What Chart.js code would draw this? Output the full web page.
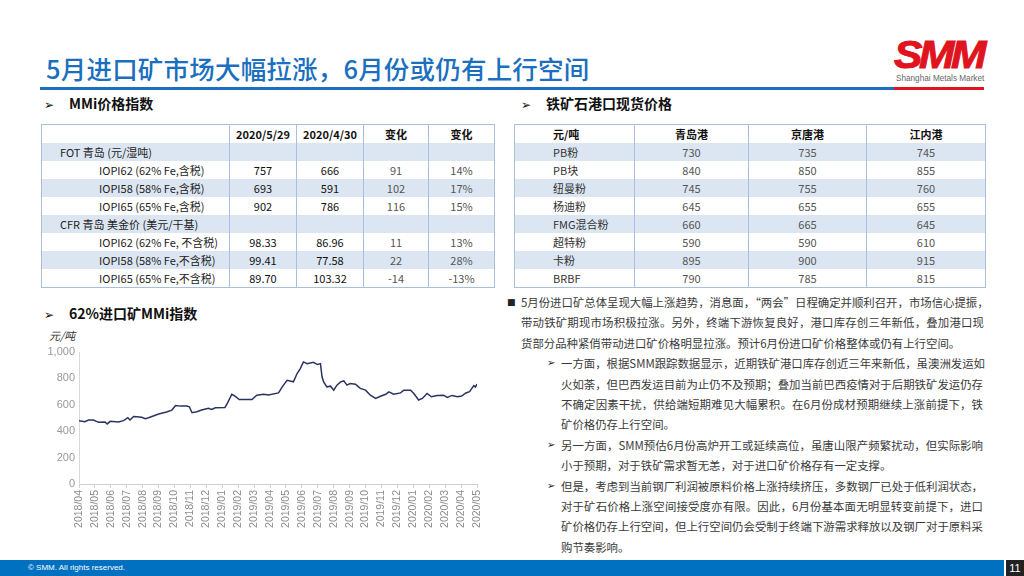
<!DOCTYPE html>
<html><head><meta charset="utf-8">
<script src="https://cdn.jsdelivr.net/npm/chart.js@4"></script>
<style>
*{margin:0;padding:0;box-sizing:border-box}
body{width:1024px;height:576px;position:relative;background:#fff;font-family:"Noto Sans CJK SC","Noto Sans",sans-serif;overflow:hidden;color:#333}
.abs{position:absolute;white-space:nowrap}
.title{left:46px;top:49px;font-size:25.5px;color:#1a6fbf;font-weight:500;letter-spacing:0.2px}
.rule{position:absolute;height:3px;top:87px}
.h2{font-size:14px;font-weight:700;color:#111}
.h2 .ar{font-family:"DejaVu Sans";font-weight:400;font-size:12px;margin-right:15px}
table{position:absolute;border-collapse:collapse;table-layout:fixed;font-size:11px}
td{height:18.1px;padding:0;border-left:1px solid #a9c0dd;border-right:1px solid #a9c0dd;text-align:center;line-height:16px}
table{border:1px solid #a9c0dd}
tr.b td{background:#dce6f2}
tr.h td{font-weight:700;color:#111}
#t1 td.v{color:#111}
#t1 td.g{color:#555}
#t2 td{color:#555}
#t2 tr.h td{color:#111}
.txt{position:absolute;font-size:11.4px;color:#3a3a3a;line-height:20px;height:20px}
.j{text-align:justify;text-align-last:justify}
</style></head><body>
<div class="abs title">5月进口矿市场大幅拉涨，6月份或仍有上行空间</div>
<div class="rule" style="left:40px;width:854px;background:#1f6fc0"></div>
<div class="rule" style="left:894px;width:90px;background:#e0141e"></div>
<div class="abs" style="left:894px;top:35px;font-family:'Liberation Sans';font-weight:900;font-style:italic;font-size:38px;color:#e0141e;letter-spacing:-3px;transform:scaleX(1.12);transform-origin:left;line-height:40px;-webkit-text-stroke:1px #e0141e">SMM</div>
<div class="abs" style="left:896px;top:74px;font-family:'Liberation Sans';font-size:8.2px;color:#666">Shanghai Metals Market</div>

<div class="abs h2" style="left:44px;top:93px"><span class="ar">➢</span>MMi价格指数</div>
<div class="abs h2" style="left:521px;top:93px"><span class="ar">➢</span>铁矿石港口现货价格</div>
<div class="abs h2" style="left:44px;top:303px"><span class="ar">➢</span>62%进口矿MMi指数</div>

<table id="t1" style="left:41px;top:124px;width:453px">
<colgroup><col style="width:188px"><col style="width:67px"><col style="width:67px"><col style="width:65px"><col style="width:66px"></colgroup>
<tbody id="t1b"></tbody></table>

<table id="t2" style="left:514px;top:124px;width:471px">
<colgroup><col style="width:120px"><col style="width:114px"><col style="width:118px"><col style="width:119px"></colgroup>
<tbody id="t2b"></tbody></table>

<div id="texts"></div>

<div class="abs" style="left:49px;top:327px;font-size:11px;font-style:italic;color:#333">元/吨</div>
<div style="position:absolute;left:30px;top:340px;width:462px;height:200px"><canvas id="c"></canvas></div>

<div style="position:absolute;left:0;top:560px;width:1004px;height:16px;background:#0070c0"></div>
<div class="abs" style="left:28px;top:562px;font-family:'Liberation Sans';font-size:8px;color:#fff;line-height:12px">© SMM. All rights reserved.</div>
<div style="position:absolute;left:1006px;top:560px;width:18px;height:16px;background:#222;color:#fff;font-family:'Liberation Sans';font-size:11px;text-align:center;line-height:16px">11</div>

<script>
// ---- MMi price table ----
const t1Header = ['', '2020/5/29', '2020/4/30', '变化', '变化'];
const t1Labels = ['FOT 青岛 (元/湿吨)', 'IOPI62 (62% Fe,含税)', 'IOPI58 (58% Fe,含税)', 'IOPI65 (65% Fe,含税)',
  'CFR 青岛 美金价 (美元/干基)', 'IOPI62 (62% Fe, 不含税)', 'IOPI58 (58% Fe,不含税)', 'IOPI65 (65% Fe,不含税)'];
const t1Now = ['', '757', '693', '902', '', '98.33', '99.41', '89.70'];
const t1Prev = ['', '666', '591', '786', '', '86.96', '77.58', '103.32'];
const t1Chg = ['', '91', '102', '116', '', '11', '22', '-14'];
const t1Pct = ['', '14%', '17%', '15%', '', '13%', '28%', '-13%'];

// ---- Port spot price table ----
const t2Header = ['元/吨', '青岛港', '京唐港', '江内港'];
const t2Labels = ['PB粉', 'PB块', '纽曼粉', '杨迪粉', 'FMG混合粉', '超特粉', '卡粉', 'BRBF'];
const qingdao = [730, 840, 745, 645, 660, 590, 895, 790];
const jingtang = [735, 850, 755, 655, 665, 590, 900, 785];
const jiangnei = [745, 855, 760, 655, 645, 610, 915, 815];

// ---- Chart data: 62% imported ore MMi index ----
const monthLabels = ['2018/04','2018/05','2018/06','2018/07','2018/08','2018/09','2018/10','2018/11','2018/12',
  '2019/01','2019/02','2019/03','2019/04','2019/05','2019/06','2019/07','2019/08','2019/09','2019/10','2019/11','2019/12',
  '2020/01','2020/02','2020/03','2020/04','2020/05'];
const dates = ['2018-04-29','2018-05-10','2018-05-17','2018-05-26','2018-06-06','2018-06-18','2018-06-22','2018-06-28',
  '2018-07-13','2018-07-23','2018-07-31','2018-08-05','2018-08-12','2018-08-18','2018-08-27','2018-09-04','2018-09-10',
  '2018-09-19','2018-09-29','2018-10-14','2018-10-24','2018-10-31','2018-11-10','2018-11-22','2018-11-27','2018-12-02',
  '2018-12-11','2018-12-20','2019-01-03','2019-01-09','2019-01-16','2019-02-04','2019-02-09','2019-02-17','2019-02-23',
  '2019-03-01','2019-03-16','2019-03-25','2019-04-04','2019-04-17','2019-04-26','2019-05-15','2019-05-22','2019-05-31',
  '2019-06-13','2019-06-20','2019-06-26','2019-07-02','2019-07-09','2019-07-15','2019-07-21','2019-07-28','2019-08-04',
  '2019-08-07','2019-08-10','2019-08-16','2019-08-23','2019-08-29','2019-09-05','2019-09-12','2019-09-18','2019-09-24',
  '2019-09-30','2019-10-10','2019-10-19','2019-10-29','2019-11-08','2019-11-18','2019-11-27','2019-12-07','2019-12-13',
  '2019-12-22','2020-01-05','2020-01-11','2020-01-24','2020-01-30','2020-02-09','2020-02-16','2020-02-25','2020-03-03',
  '2020-03-14','2020-03-26','2020-04-03','2020-04-12','2020-04-22','2020-04-30','2020-05-08','2020-05-15','2020-05-23',
  '2020-05-26','2020-05-29'];
const values = [480,472,485,485,467,470,455,475,
  470,480,502,485,512,510,505,495,502,
  515,530,545,560,595,590,590,585,540,
  548,560,573,565,578,580,615,680,665,
  640,640,640,673,680,675,690,736,786,
  774,837,874,925,912,917,922,905,912,
  812,774,736,741,711,749,774,781,749,
  761,756,724,711,673,648,665,680,698,
  680,690,711,711,686,636,648,686,661,
  671,673,656,671,661,666,690,700,745,
  735,757];

// ---- Commentary text lines ----
const mainLines = ['5月份进口矿总体呈现大幅上涨趋势，消息面，“两会”日程确定并顺利召开，市场信心提振，',
  '带动铁矿期现市场积极拉涨。另外，终端下游恢复良好，港口库存创三年新低，叠加港口现',
  '货部分品种紧俏带动进口矿价格明显拉涨。预计6月份进口矿价格整体或仍有上行空间。'];
const sub1 = ['一方面，根据SMM跟踪数据显示，近期铁矿港口库存创近三年来新低，虽澳洲发运如',
  '火如荼，但巴西发运目前为止仍不及预期；叠加当前巴西疫情对于后期铁矿发运仍存',
  '不确定因素干扰，供给端短期难见大幅累积。在6月份成材预期继续上涨前提下，铁',
  '矿价格仍存上行空间。'];
const sub2 = ['另一方面，SMM预估6月份高炉开工或延续高位，虽唐山限产频繁扰动，但实际影响',
  '小于预期，对于铁矿需求暂无恙，对于进口矿价格存有一定支撑。'];
const sub3 = ['但是，考虑到当前钢厂利润被原料价格上涨持续挤压，多数钢厂已处于低利润状态，',
  '对于矿石价格上涨空间接受度亦有限。因此，6月份基本面无明显转变前提下，进口',
  '矿价格仍存上行空间，但上行空间仍会受制于终端下游需求释放以及钢厂对于原料采',
  '购节奏影响。'];

// build table 1
(function(){
  const tb = document.getElementById('t1b');
  let h = '<tr class="h">' + t1Header.map(s => '<td>' + s + '</td>').join('') + '</tr>';
  t1Labels.forEach((lab, i) => {
    const sec = t1Now[i] === '';
    const pad = sec ? 18 : 57;
    h += '<tr class="' + (i % 2 === 0 ? 'b' : '') + '"><td style="text-align:left;padding-left:' + pad + 'px;color:#222">' + lab + '</td>' +
      '<td class="v">' + t1Now[i] + '</td><td class="v">' + t1Prev[i] + '</td><td class="g">' + t1Chg[i] + '</td><td class="g">' + t1Pct[i] + '</td></tr>';
  });
  tb.innerHTML = h;
})();
// build table 2
(function(){
  const tb = document.getElementById('t2b');
  let h = '<tr class="h">' + t2Header.map((s, i) => '<td' + (i === 0 ? ' style="text-align:left;padding-left:38px"' : '') + '>' + s + '</td>').join('') + '</tr>';
  t2Labels.forEach((lab, i) => {
    h += '<tr class="' + (i % 2 === 0 ? 'b' : '') + '"><td style="text-align:left;padding-left:38px;color:#333">' + lab + '</td><td>' +
      qingdao[i] + '</td><td>' + jingtang[i] + '</td><td>' + jiangnei[i] + '</td></tr>';
  });
  tb.innerHTML = h;
})();
// build text
(function(){
  const box = document.getElementById('texts');
  let y = 292, lh = 20.4, html = '';
  function para(lines, left, right, marker, mleft) {
    lines.forEach((ln, i) => {
      const last = i === lines.length - 1;
      if (i === 0) html += '<div class="txt" style="left:' + mleft + 'px;top:' + y + 'px;font-family:DejaVu Sans;font-size:' + (marker === '■' ? 9 : 10) + 'px;color:#222">' + marker + '</div>';
      html += '<div class="txt' + (last ? '' : ' j') + '" style="left:' + left + 'px;width:' + (right - left) + 'px;top:' + y + 'px;white-space:nowrap">' + ln + '</div>';
      y += lh;
    });
  }
  para(mainLines, 521, 984, '■', 507);
  para(sub1, 561, 983, '➢', 547);
  para(sub2, 561, 983, '➢', 547);
  para(sub3, 561, 983, '➢', 547);
  box.innerHTML = html;
})();

// chart
function monthPos(d) {
  const [y, m, day] = d.split('-').map(Number);
  return (y - 2018) * 12 + (m - 4) + (day - 29) / 30;
}
const pts = dates.map((d, i) => ({ x: monthPos(d), y: values[i] }));
new Chart(document.getElementById('c'), {
  type: 'line',
  data: { datasets: [{ data: pts, borderColor: '#2b3361', borderWidth: 1.5, pointRadius: 0, tension: 0, fill: false }] },
  options: {
    responsive: true, maintainAspectRatio: false, animation: false,
    layout: { padding: { top: 12, right: 15, left: 0, bottom: 0 } },
    plugins: { legend: { display: false }, tooltip: { enabled: false } },
    scales: {
      x: {
        type: 'linear', min: 0, max: monthLabels.length - 1,
        afterFit: s => { s.height = 56; },
        afterBuildTicks: s => { s.ticks = monthLabels.map((_, i) => ({ value: i })); },
        ticks: { callback: v => monthLabels[v], minRotation: 90, maxRotation: 90, autoSkip: false,
          color: '#8c8c8c', font: { family: 'Liberation Sans', size: 10.5 }, padding: 2 },
        grid: { display: true, drawOnChartArea: false, drawTicks: true, tickLength: 4, color: '#d0d0d0' },
        border: { color: '#d0d0d0' }
      },
      y: {
        min: 0, max: 1000,
        afterFit: s => { s.width = 49; },
        ticks: { stepSize: 200, callback: v => v.toLocaleString('en-US'), color: '#999',
          font: { family: 'Liberation Sans', size: 11 }, padding: 4 },
        grid: { display: false, drawTicks: false },
        border: { display: true, color: '#d9d9d9' }
      }
    }
  }
});
</script>
</body></html>
